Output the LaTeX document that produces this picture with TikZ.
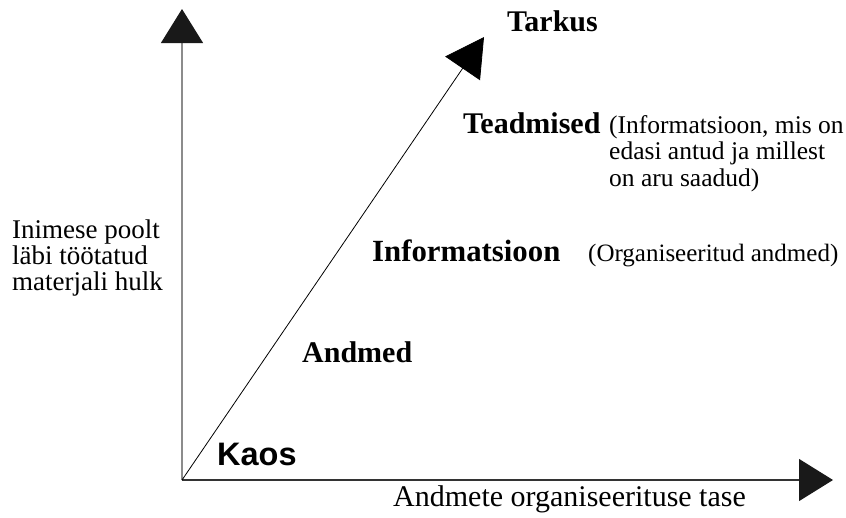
\documentclass[tikz,border=0pt]{standalone}
\usepackage{fontspec}
\setmainfont{Liberation Serif}
\setsansfont{Liberation Sans}
\usetikzlibrary{arrows.meta}

\begin{document}
\begin{tikzpicture}[x=1pt,y=-1pt,
    level/.style={font=\fontsize{30}{30}\selectfont\bfseries, anchor=base west, inner sep=0},
    note/.style={font=\fontsize{25}{26.5}\selectfont, anchor=base west, inner sep=0, align=left},
    axis/.style={line width=1.2pt, -{Triangle[length=34pt,width=42pt,color=black!90]}}]
  \useasboundingbox (0,0) rectangle (846,517);
  \coordinate (o) at (182,480);
  \coordinate (top) at (182,9);
  \coordinate (right) at (833,480);
  \coordinate (peak) at (484,37);
  \draw[axis, black!45] (o) to (top);
  \draw[axis, black!80] (o) to (right);
  \draw[line width=0.8pt, -{Triangle[length=38pt,width=42pt]}] (o) to (peak);
  \draw
    (507,31) node[level] (tarkus){Tarkus}
    (463,133) node[level] (teadmised){Teadmised}
    (372,261) node[level, font=\fontsize{30.8}{31}\selectfont\bfseries] (informatsioon){Informatsioon}
    (302,362) node[level] (andmed){Andmed}
    (217,465) node[level, font=\fontsize{32.5}{33}\selectfont\sffamily\bfseries] (kaos){Kaos};
  \draw
    (609,186) node[note, font=\fontsize{25.5}{26.5}\selectfont] (teadnote){(Informatsioon, mis on\\edasi antud ja millest\\on aru saadud)}
    (588,261) node[note] (infonote){(Organiseeritud andmed)}
    (12,290) node[note, font=\fontsize{27}{26}\selectfont] (ylabel){Inimese poolt\\läbi töötatud\\materjali hulk}
    (393,506) node[note, font=\fontsize{30}{30}\selectfont] (xlabel){Andmete organiseerituse tase};
\end{tikzpicture}
\end{document}
